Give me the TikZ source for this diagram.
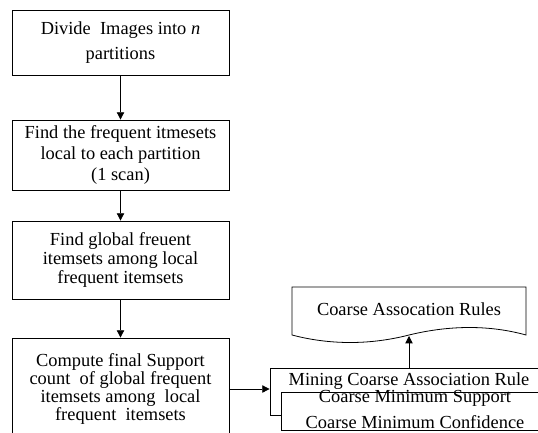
\documentclass[tikz,border=0pt]{standalone}
\usepackage{fontspec}
\setmainfont{Liberation Serif}
\usetikzlibrary{arrows.meta}

\begin{document}
\begin{tikzpicture}[x=0.75pt, y=-0.75pt,
  flowbox/.style={draw, line width=0.6pt, fill=white, minimum width=162.75pt, inner sep=0pt, align=center},
  flowtext/.style={inner sep=0pt, align=center},
  flowarrow/.style={-{Triangle[length=5.5pt,width=5.5pt]}, line width=0.6pt}]

\useasboundingbox (0,0) rectangle (538,432);
\clip (0,0) rectangle (538,432);

% left column
\node[flowbox, minimum height=48.75pt, font=\fontsize{13.8}{19}\selectfont] (divide) at (120.5,42.5) {Divide\ \ Images into \textit{n}\\partitions};
\node[flowbox, minimum height=52.5pt, font=\fontsize{13.8}{16}\selectfont] (local) at (120.5,155) {Find the frequent itmesets\\local to each partition\\(1 scan)};
\node[flowbox, minimum height=58.5pt, font=\fontsize{13.8}{14.5}\selectfont] (global) at (120.5,260) {Find global freuent\\itemsets among local\\frequent itemsets};
\node[flowbox, minimum height=76.5pt, font=\fontsize{13.8}{13.5}\selectfont] (support) at (120.5,389) {Compute final Support\\count\ \ of global frequent\\itemsets among\ \ local\\frequent\ \ itemsets};

\draw[flowarrow] (divide) -- (local);
\draw[flowarrow] (local) -- (global);
\draw[flowarrow] (global) -- (support);

% mining box
\node[draw, line width=0.6pt, minimum width=210pt, minimum height=35.25pt] (mine) at (410,391.5) {};
\node[flowbox, minimum width=205.5pt, minimum height=28.5pt] (thresh) at (418,411) {};
\node[flowtext, font=\fontsize{13.8}{15}\selectfont] (minetext) at (409,381) {Mining Coarse Association Rule};
\node[flowtext, font=\fontsize{13.8}{19.5}\selectfont] (threshtext) at (415,409) {Coarse Minimum Support\\Coarse Minimum Confidence};

\draw[flowarrow] (support.east) -- (support.east -| mine.west);

% output document
\draw[line width=0.6pt] (292,287) -- (526,287) -- (526,335)
  .. controls (490,325) and (450,325) .. (409,335)
  .. controls (370,345) and (330,345) .. (292,335) -- cycle;
\node[flowtext, font=\fontsize{13.8}{15}\selectfont] (rules) at (409,309) {Coarse Assocation Rules};
\coordinate (rulesbot) at (409,336);

\draw[flowarrow] (mine.north -| rulesbot) -- (rulesbot);

\end{tikzpicture}
\end{document}
